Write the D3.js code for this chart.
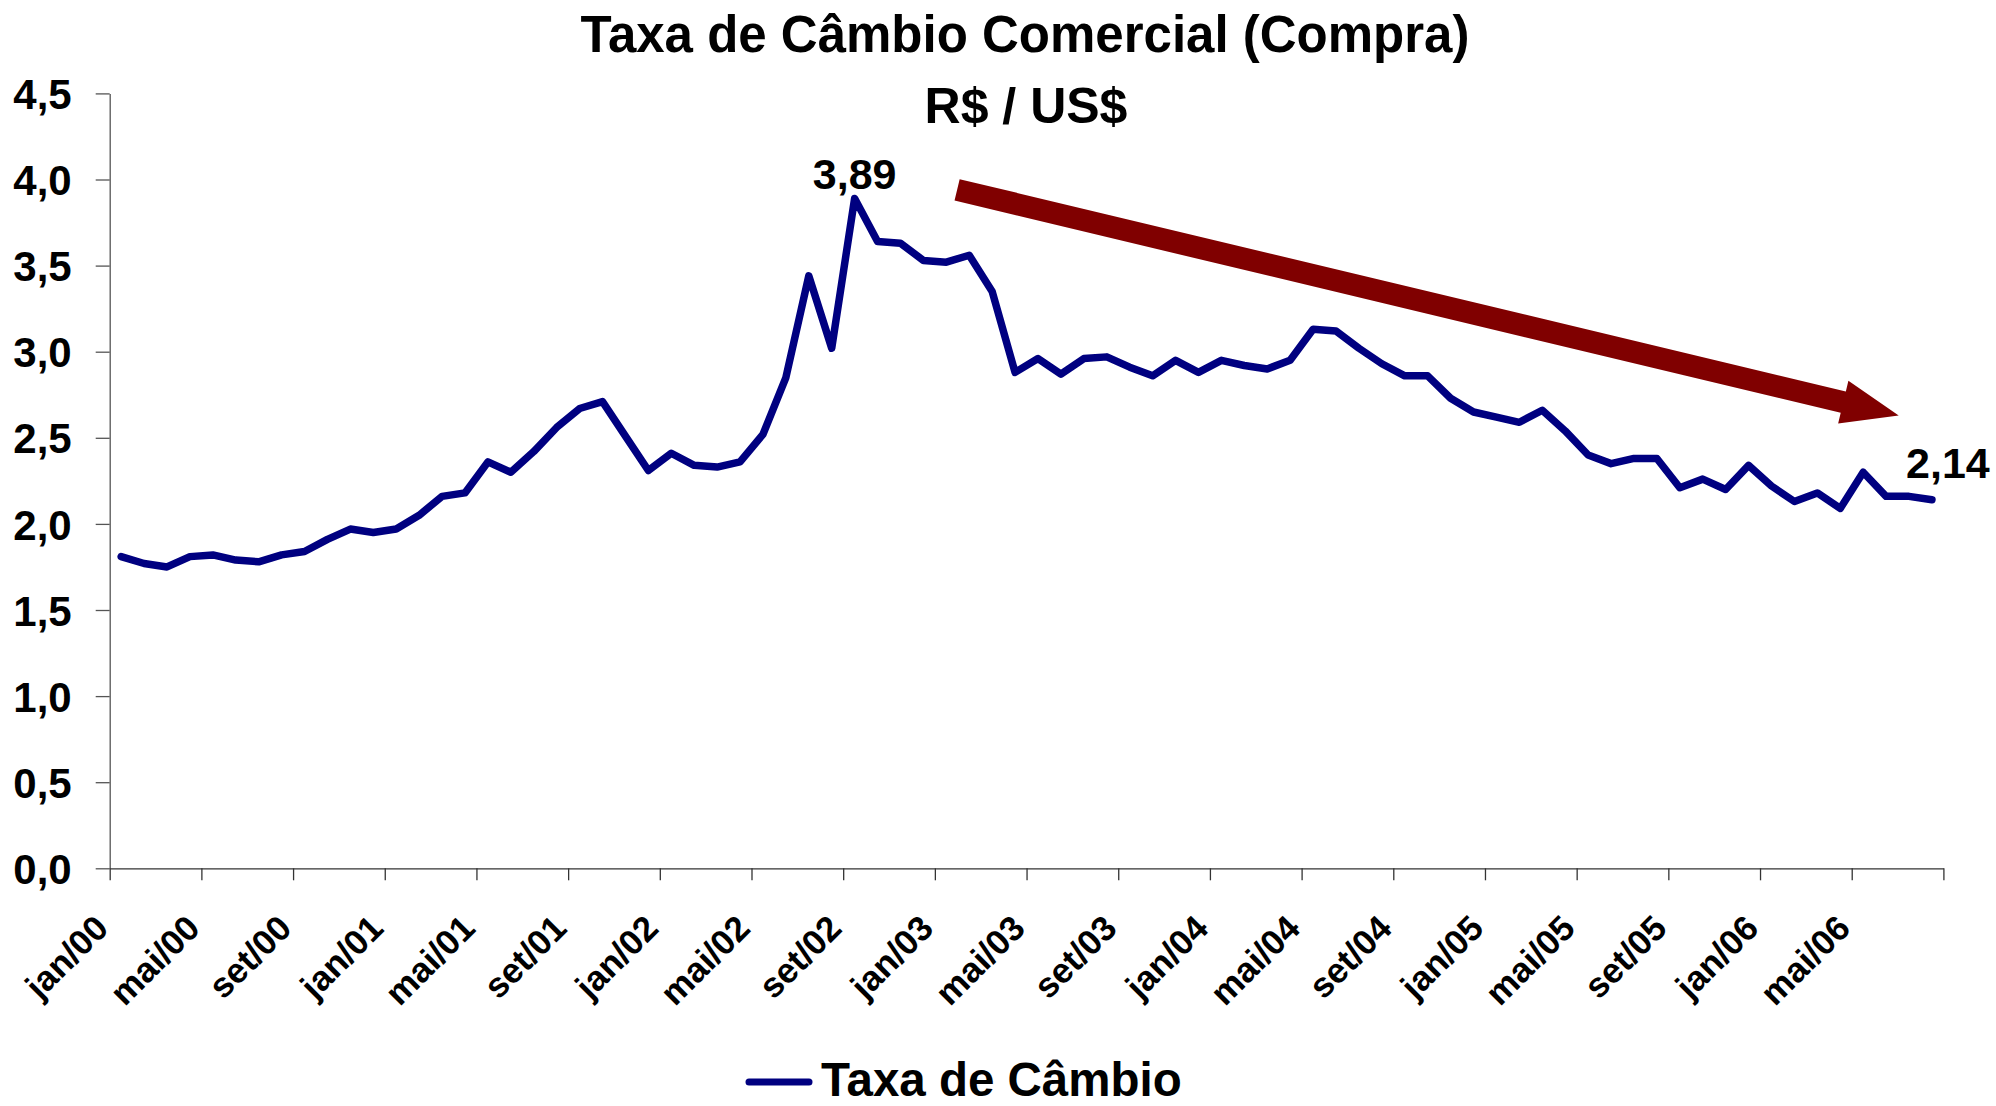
<!DOCTYPE html>
<html>
<head>
<meta charset="utf-8">
<script src="https://cdn.jsdelivr.net/npm/d3@7"></script>
<style>
  html, body { margin: 0; padding: 0; background: #ffffff; }
  svg { display: block; }
  text { font-family: "Liberation Sans", Arial, sans-serif; font-weight: bold; fill: #000; }
</style>
</head>
<body>
<svg id="chart" width="1996" height="1106"></svg>
<script>
// ---- data ----
const monthNames = ["jan","fev","mar","abr","mai","jun","jul","ago","set","out","nov","dez"];
const years = ["00","01","02","03","04","05","06"];
const categories = [];
years.forEach(y => monthNames.forEach(m => categories.push(m + "/" + y)));
categories.length = 80; // jan/00 .. ago/06

const taxaCambio = [
  1.81, 1.77, 1.75, 1.81, 1.82, 1.79, 1.78, 1.82, 1.84, 1.91, 1.97, 1.95,
  1.97, 2.05, 2.16, 2.18, 2.36, 2.30, 2.42, 2.56, 2.67, 2.71, 2.51, 2.31,
  2.41, 2.34, 2.33, 2.36, 2.52, 2.85, 3.44, 3.02, 3.89, 3.64, 3.63, 3.53,
  3.52, 3.56, 3.35, 2.88, 2.96, 2.87, 2.96, 2.97, 2.91, 2.86, 2.95, 2.88,
  2.95, 2.92, 2.90, 2.95, 3.13, 3.12, 3.02, 2.93, 2.86, 2.86, 2.73, 2.65,
  2.62, 2.59, 2.66, 2.54, 2.40, 2.35, 2.38, 2.38, 2.21, 2.26, 2.20, 2.34,
  2.22, 2.13, 2.18, 2.09, 2.30, 2.16, 2.16, 2.14
];

const xTickLabels = ["jan/00","mai/00","set/00","jan/01","mai/01","set/01","jan/02","mai/02","set/02",
  "jan/03","mai/03","set/03","jan/04","mai/04","set/04","jan/05","mai/05","set/05","jan/06","mai/06"];
const yTicks = [0, 0.5, 1.0, 1.5, 2.0, 2.5, 3.0, 3.5, 4.0, 4.5];

const dataLabels = [ { cat: "set/02", text: "3,89" }, { cat: "ago/06", text: "2,14" } ];
// trend arrow in data units: [category-axis position, value]
const arrowFrom = [36.97, 3.94];
const arrowTo = [78.05, 2.63];

const titleText = "Taxa de Câmbio Comercial (Compra)";
const subtitleText = "R$ / US$";
const seriesName = "Taxa de Câmbio";

// ---- layout ----
const svg = d3.select("#chart");
const W = 1996, H = 1106;
svg.append("rect").attr("width", W).attr("height", H).attr("fill", "#fff");

const plot = { left: 109.7, right: 1943.4, top: 93.4, bottom: 868.3 };
const x = d3.scaleLinear().domain([0, categories.length]).range([plot.left, plot.right]);
const y = d3.scaleLinear().domain([0, 4.5]).range([plot.bottom, plot.top]);
const cx = i => x(i + 0.5);

const fmt = v => d3.format(".1f")(v).replace(".", ",");

// y axis
const yAxis = svg.append("g")
  .attr("transform", `translate(${plot.left},0)`)
  .call(d3.axisLeft(y).tickValues(yTicks).tickSize(14).tickSizeOuter(0).tickPadding(24).tickFormat(fmt));
yAxis.select(".domain").attr("stroke", "#555").attr("stroke-width", 1.3);
yAxis.selectAll(".tick line").attr("stroke", "#555").attr("stroke-width", 1.3);
yAxis.selectAll(".tick text")
  .style("font-family", '"Liberation Sans", Arial, sans-serif')
  .style("font-weight", "bold").attr("font-size", 42).attr("fill", "#000")
  .attr("dy", "0.36em");

// x axis
const xTickPos = d3.range(0, categories.length + 1, 4);
const xAxis = svg.append("g")
  .attr("transform", `translate(0,${plot.bottom})`)
  .call(d3.axisBottom(x).tickValues(xTickPos).tickSize(12).tickSizeOuter(0).tickFormat(""));
xAxis.select(".domain").attr("stroke", "#333").attr("stroke-width", 1.3);
xAxis.selectAll(".tick line").attr("stroke", "#333").attr("stroke-width", 1.3);

// x labels rotated
svg.append("g").selectAll("text")
  .data(xTickLabels)
  .join("text")
  .attr("font-size", 35)
  .attr("text-anchor", "end")
  .attr("transform", d => {
    const i = categories.indexOf(d);
    return `translate(${cx(i) - 11},${plot.bottom + 62}) rotate(-45)`;
  })
  .text(d => d);

// trend arrow
(function drawArrow() {
  const p0 = [x(arrowFrom[0]), y(arrowFrom[1])];
  const p1 = [x(arrowTo[0]), y(arrowTo[1])];
  const dx = p1[0] - p0[0], dy = p1[1] - p0[1];
  const len = Math.hypot(dx, dy);
  const u = [dx / len, dy / len];
  const n = [-u[1], u[0]];
  const sw = 11, hw = 22, hl = 57;
  const neck = [p1[0] - u[0] * hl, p1[1] - u[1] * hl];
  const pt = (p, k) => [p[0] + n[0] * k, p[1] + n[1] * k];
  const pts = [pt(p0, -sw), pt(neck, -sw), pt(neck, -hw), p1, pt(neck, hw), pt(neck, sw), pt(p0, sw)];
  svg.append("path")
    .attr("d", d3.line()(pts) + "Z")
    .attr("fill", "#800000");
})();

// series line
svg.append("path")
  .datum(taxaCambio)
  .attr("fill", "none")
  .attr("stroke", "#000080")
  .attr("stroke-width", 7.5)
  .attr("stroke-linejoin", "round")
  .attr("stroke-linecap", "round")
  .attr("d", d3.line().x((d, i) => cx(i)).y(d => y(d)));

// data labels
const lbl = svg.append("g");
lbl.append("text")
  .attr("x", cx(categories.indexOf(dataLabels[0].cat)))
  .attr("y", y(taxaCambio[categories.indexOf(dataLabels[0].cat)]) - 9)
  .attr("text-anchor", "middle").attr("font-size", 43)
  .text(dataLabels[0].text);
lbl.append("text")
  .attr("x", cx(categories.indexOf(dataLabels[1].cat)) + 16)
  .attr("y", y(taxaCambio[categories.indexOf(dataLabels[1].cat)]) - 22)
  .attr("text-anchor", "middle").attr("font-size", 43)
  .text(dataLabels[1].text);

// titles
svg.append("text").attr("x", 1025).attr("y", 52).attr("text-anchor", "middle")
  .attr("font-size", 51).text(titleText);
svg.append("text").attr("x", 1026).attr("y", 123).attr("text-anchor", "middle")
  .attr("font-size", 50).text(subtitleText);

// legend
const lg = svg.append("g");
lg.append("line").attr("x1", 749).attr("x2", 809).attr("y1", 1082).attr("y2", 1082)
  .attr("stroke", "#000080").attr("stroke-width", 7).attr("stroke-linecap", "round");
lg.append("text").attr("x", 821).attr("y", 1096).attr("font-size", 47.5).text(seriesName);
</script>
</body>
</html>
